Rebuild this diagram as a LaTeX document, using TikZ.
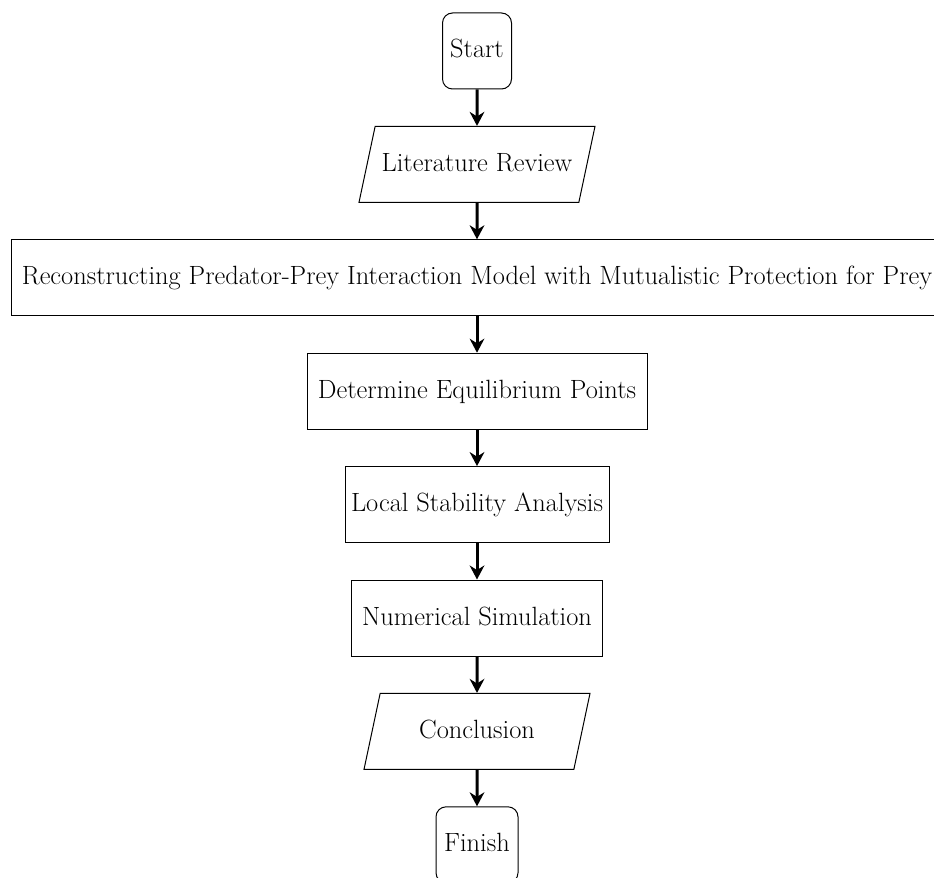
\documentclass[tikz,border=0pt]{standalone}
\usepackage{tikz}
\usetikzlibrary{positioning, shapes.geometric, arrows.meta}

\tikzset{
    stepbase/.style={draw, line width=0.75pt, text height=14.5pt, text depth=4pt, inner ysep=19.25pt, inner xsep=4pt},
    terminal/.style={stepbase, rounded corners=7.5pt},
    process/.style={stepbase},
    inout/.style={stepbase, trapezium, trapezium left angle=78, trapezium right angle=102, trapezium stretches body},
    flow/.style={line width=2.25pt, -{Stealth[length=10.5pt, width=11pt]}}
}

\begin{document}
\begin{tikzpicture}[font=\fontsize{19.8}{24}\selectfont, node distance=27.3pt]
    \useasboundingbox (0,0) rectangle (700.5pt,-657.75pt);

    % steps, top to bottom
    \node[terminal, minimum width=51.75pt] (start) at (357.75pt,-38.25pt) {Start};
    \node[inout, minimum width=177pt, below=of start] (litrev) {Literature Review};
    \node[process, minimum width=699pt, below=of litrev] (model) {Reconstructing Predator-Prey Interaction Model with Mutualistic Protection for Prey};
    \node[process, minimum width=255pt, below=of model] (equil) {Determine Equilibrium Points};
    \node[process, minimum width=198pt, below=of equil] (stab) {Local Stability Analysis};
    \node[process, minimum width=188.25pt, below=of stab] (numsim) {Numerical Simulation};
    \node[inout, minimum width=169.5pt, below=of numsim] (concl) {Conclusion};
    \node[terminal, minimum width=61.5pt, below=of concl] (finish) {Finish};

    % arrows
    \foreach \a/\b in {start/litrev, litrev/model, model/equil, equil/stab, stab/numsim, numsim/concl, concl/finish}
        \draw[flow] (\a) -- (\b);
\end{tikzpicture}
\end{document}
